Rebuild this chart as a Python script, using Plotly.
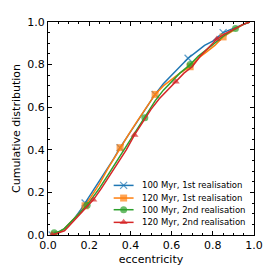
import plotly.graph_objects as go

# ---- data ----
names = ["100 Myr, 1st realisation", "120 Myr, 1st realisation",
         "100 Myr, 2nd realisation", "120 Myr, 2nd realisation"]
colors = ["#1f77b4", "#ff7f0e", "#2ca02c", "#d62728"]
symbols = ["x-thin", "square", "circle", "triangle-up"]

ecc_100_1 = [0.02, 0.05, 0.08, 0.10, 0.13, 0.16, 0.18, 0.21, 0.25, 0.29, 0.32, 0.35, 0.39, 0.43,
             0.47, 0.52, 0.56, 0.60, 0.64, 0.68, 0.72, 0.76, 0.80, 0.85, 0.90, 0.95, 0.98]
cdf_100_1 = [0.00, 0.01, 0.03, 0.05, 0.08, 0.12, 0.15, 0.19, 0.25, 0.31, 0.36, 0.41, 0.47, 0.53,
             0.59, 0.66, 0.71, 0.75, 0.79, 0.83, 0.86, 0.89, 0.91, 0.95, 0.97, 0.99, 1.00]
mk_100_1 = [0, 6, 11, 15, 19, 23]

ecc_120_1 = [0.03, 0.05, 0.08, 0.10, 0.13, 0.16, 0.18, 0.21, 0.25, 0.29, 0.32, 0.35, 0.39, 0.43,
             0.47, 0.52, 0.56, 0.60, 0.64, 0.69, 0.73, 0.77, 0.81, 0.85, 0.90, 0.95, 0.98]
cdf_120_1 = [0.00, 0.01, 0.03, 0.05, 0.08, 0.11, 0.137, 0.18, 0.24, 0.31, 0.36, 0.41, 0.47, 0.53,
             0.59, 0.66, 0.70, 0.73, 0.76, 0.79, 0.83, 0.86, 0.89, 0.93, 0.96, 0.99, 1.00]
mk_120_1 = [0, 6, 11, 15, 19, 23]

ecc_100_2 = [0.03, 0.05, 0.08, 0.10, 0.13, 0.16, 0.19, 0.22, 0.25, 0.29, 0.33, 0.37, 0.42,
             0.47, 0.52, 0.56, 0.60, 0.64, 0.69, 0.73, 0.77, 0.81, 0.86, 0.91, 0.95, 0.98]
cdf_100_2 = [0.01, 0.015, 0.03, 0.05, 0.08, 0.11, 0.14, 0.18, 0.22, 0.28, 0.34, 0.40, 0.48,
             0.55, 0.63, 0.68, 0.72, 0.76, 0.80, 0.84, 0.87, 0.90, 0.94, 0.97, 0.99, 1.00]
mk_100_2 = [0, 6, 13, 18, 23]

ecc_120_2 = [0.02, 0.05, 0.08, 0.10, 0.13, 0.16, 0.19, 0.22, 0.26, 0.30, 0.34, 0.38, 0.42, 0.46,
             0.50, 0.54, 0.58, 0.62, 0.66, 0.70, 0.74, 0.78, 0.82, 0.86, 0.90, 0.95, 0.98]
cdf_120_2 = [0.00, 0.01, 0.02, 0.04, 0.07, 0.10, 0.13, 0.165, 0.22, 0.28, 0.34, 0.40, 0.47, 0.53,
             0.59, 0.64, 0.68, 0.72, 0.76, 0.79, 0.84, 0.88, 0.92, 0.945, 0.965, 0.99, 1.00]
mk_120_2 = [0, 7, 12, 17, 22]

tick_vals = [0.0, 0.2, 0.4, 0.6, 0.8, 1.0]

series = [(ecc_100_1, cdf_100_1, mk_100_1), (ecc_120_1, cdf_120_1, mk_120_1),
          (ecc_100_2, cdf_100_2, mk_100_2), (ecc_120_2, cdf_120_2, mk_120_2)]

FONT = "DejaVu Sans"
fig = go.Figure()

for (ex, cy, mk), name, col, sym in zip(series, names, colors, symbols):
    sizes = [7 if i in mk else 0 for i in range(len(ex))]
    fig.add_trace(go.Scatter(
        x=ex, y=cy, mode="lines+markers", name=name, showlegend=False,
        line=dict(color=col, width=1.5),
        marker=dict(symbol=sym, size=sizes, color=col,
                    line=dict(color=col, width=1.3 if sym == "x-thin" else 0)),
    ))

# ---- custom compact legend on an overlay axis (pixel-like units of plot area) ----
leg_rows = [168, 181, 193, 206]
for row, name, col, sym in zip(leg_rows, names, colors, symbols):
    fig.add_trace(go.Scatter(
        x=[66, 76, 86], y=[row, row, row], xaxis="x2", yaxis="y2",
        mode="lines+markers", showlegend=False, hoverinfo="skip",
        line=dict(color=col, width=1.5),
        marker=dict(symbol=sym, size=[0, 7, 0], color=col,
                    line=dict(color=col, width=1.3 if sym == "x-thin" else 0)),
    ))
    fig.add_annotation(x=92, y=row, xref="x2", yref="y2", text=name, showarrow=False,
                       xanchor="left", yanchor="middle",
                       font=dict(family=FONT, size=8.5, color="black"))

axis_common = dict(
    range=[0, 1], tickvals=tick_vals, tickformat=".1f",
    ticks="inside", ticklen=4, tickwidth=1, tickcolor="black",
    showline=True, linecolor="black", linewidth=1, mirror="ticks",
    showgrid=False, zeroline=False,
    tickfont=dict(family=FONT, size=11, color="black"),
    minor=dict(ticks="inside", ticklen=2, tickcolor="black", dtick=0.05, tick0=0, showgrid=False),
)

# page body adds an 8 px offset; figure sized so the plot area lands where the reference has it
fig.update_layout(
    width=266, height=266,
    margin=dict(l=39, r=20, t=8, b=39),
    paper_bgcolor="white", plot_bgcolor="white",
    xaxis=dict(**axis_common, title=dict(text="eccentricity", standoff=4,
                                         font=dict(family=FONT, size=11, color="black"))),
    yaxis=dict(**axis_common, title=dict(text="Cumulative distribution", standoff=4,
                                         font=dict(family=FONT, size=11, color="black"))),
    xaxis2=dict(range=[0, 207], overlaying="x", visible=False, fixedrange=True),
    yaxis2=dict(range=[219, 0], overlaying="y", visible=False, fixedrange=True),
)

fig.write_html("out.html")
